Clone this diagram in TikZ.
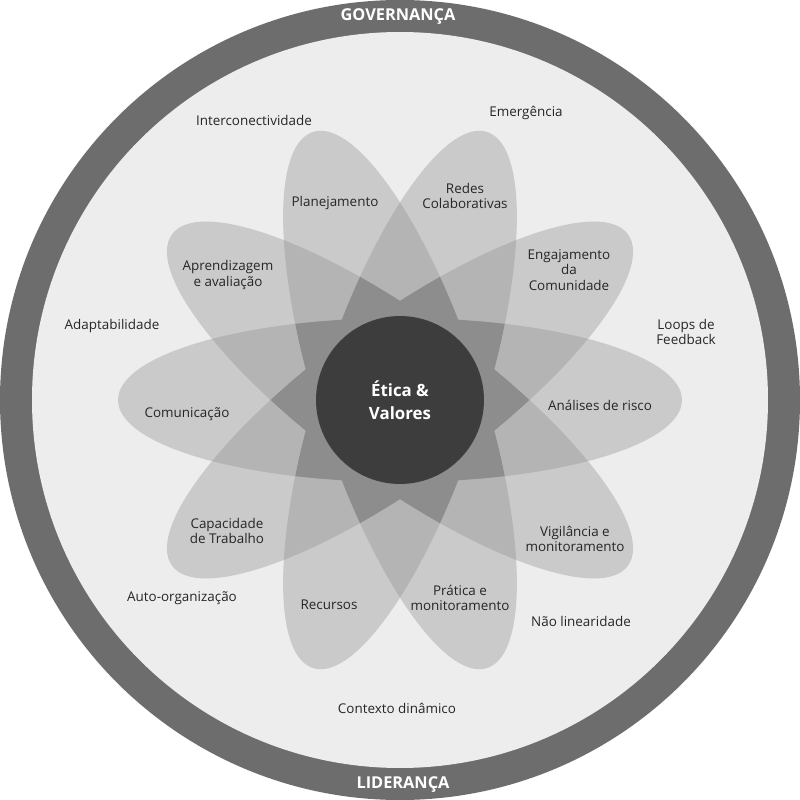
\documentclass[tikz,border=0pt]{standalone}
\usepackage{fontspec}
\setmainfont{Open Sans}
\definecolor{ringgray}{HTML}{6D6D6D}
\definecolor{fieldgray}{HTML}{EDEDED}
\definecolor{petalgray}{HTML}{CACACA}
\definecolor{pairgray}{HTML}{B4B4B4}
\definecolor{stargray}{HTML}{8D8D8D}
\definecolor{coregray}{HTML}{3D3D3D}
\definecolor{labelgray}{HTML}{262626}

\begin{document}
\begin{tikzpicture}[scale=0.02]
\tikzstyle{every node}+=[inner sep=0pt]
\tikzstyle{label}=[align=center, text=labelgray, font=\fontsize{7.65}{8.8}\selectfont]
\tikzstyle{ringlabel}=[text=white, font=\bfseries\fontsize{9.3}{11}\selectfont]
\useasboundingbox (-400,-400) rectangle (400,400);
\fill [white] (-400,-400) rectangle (400,400);
\fill [ringgray] (0,0) circle (400);
\fill [fieldgray] (0,0) circle (368);
% petals
\foreach \i in {0,...,4}
  \fill [petalgray, rotate=36*\i] (0,0) ellipse (282 and 82);
% where two petals meet
\foreach \i in {0,...,4}
  \foreach \j in {1,2} {
    \begin{scope}
    \clip [rotate=36*\i] (0,0) ellipse (282 and 82);
    \fill [pairgray, rotate=36*(\i+\j)] (0,0) ellipse (282 and 82);
    \end{scope}
  }
% where three petals meet
\foreach \i in {0,...,4}
  \foreach \j/\k in {1/2,1/3} {
    \begin{scope}
    \clip [rotate=36*\i] (0,0) ellipse (282 and 82);
    \clip [rotate=36*(\i+\j)] (0,0) ellipse (282 and 82);
    \fill [stargray, rotate=36*(\i+\k)] (0,0) ellipse (282 and 82);
    \end{scope}
  }
\node (ethics) [circle, fill=coregray, minimum size=3.36cm, align=center, text=white,
  font=\bfseries\fontsize{9.6}{13}\selectfont] at (0,0) {Ética \&\\Valores};
\node (governance) [ringlabel] at (-2,383) {GOVERNANÇA};
\node (leadership) [ringlabel] at (3,-385) {LIDERANÇA};
% petal ends
\node (planning) [label] at (-65,197) {Planejamento};
\node (networks) [label] at (65,204) {Redes\\Colaborativas};
\node (learning) [label] at (-172,125) {Aprendizagem\\e avaliação};
\node (engagement) [label] at (169,130) {Engajamento\\da\\Comunidade};
\node (communication) [label] at (-213,-14) {Comunicação};
\node (risk) [label] at (200,-5) {Análises de risco};
\node (capacity) [label] at (-173,-131) {Capacidade\\de Trabalho};
\node (vigilance) [label] at (175,-139) {Vigilância e\\monitoramento};
\node (resources) [label] at (-71,-205) {Recursos};
\node (practice) [label] at (60,-198) {Prática e\\monitoramento};
% field
\node (interconnect) [label] at (-146,280) {Interconectividade};
\node (emergence) [label] at (126,287) {Emergência};
\node (adaptability) [label] at (-288,74) {Adaptabilidade};
\node (feedback) [label] at (286,68) {Loops de\\Feedback};
\node (selforg) [label] at (-218,-198) {Auto-organização};
\node (nonlinear) [label] at (181,-221) {Não linearidade};
\node (context) [label] at (-3,-308) {Contexto dinâmico};
\end{tikzpicture}
\end{document}
